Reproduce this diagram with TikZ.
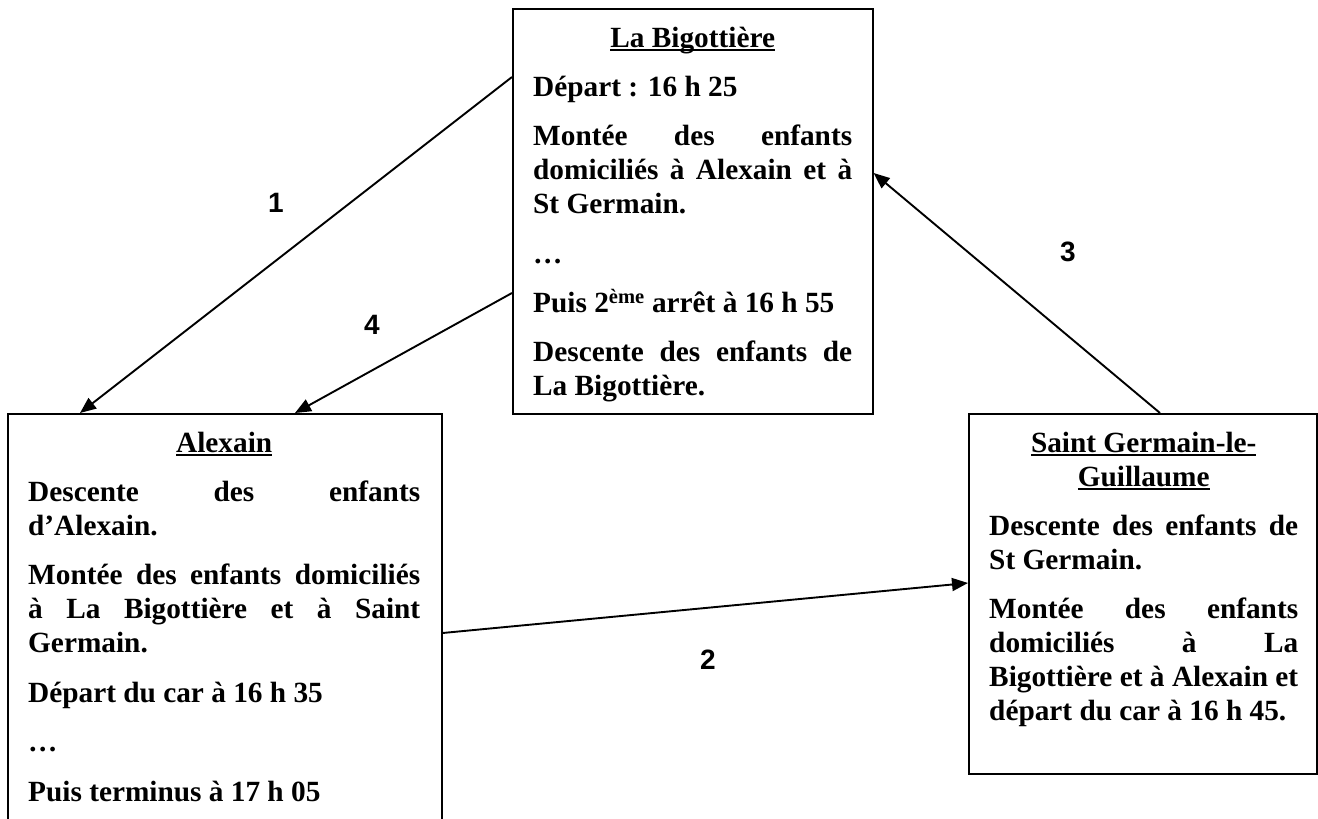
\documentclass[tikz,border=0pt]{standalone}
\usepackage{fontspec}
\setmainfont{Liberation Serif}
\newfontfamily\numfont{Liberation Sans}
\usetikzlibrary{arrows.meta}
\newcommand\myul[1]{\leavevmode\setbox0=\hbox{#1}\rlap{\rule[-4pt]{\wd0}{1.8pt}}\box0}
\newcommand\bodysetup{\fontsize{29.3}{34}\selectfont\bfseries
  \setlength\parskip{15.4pt}\setlength\parindent{0pt}%
  \hyphenpenalty=10000 \exhyphenpenalty=10000 \tolerance=10000 \hbadness=10000}
\tikzset{
  box/.style={draw, line width=1.6pt, inner sep=0pt, anchor=north west},
  txt/.style={anchor=base west, inner sep=0pt},
  arr/.style={line width=1.9pt, -{Triangle[length=16pt,width=13pt]}},
  num/.style={font=\numfont\bfseries\fontsize{28}{32}\selectfont, inner sep=0pt}
}
\begin{document}
\begin{tikzpicture}[x=1pt,y=-1pt]
\useasboundingbox (0,0) rectangle (1318,819);
\clip (0,0) rectangle (1318,819);
% boxes
\node[box, minimum width=360pt, minimum height=405pt] (big) at (512,8) {};
\node[box, minimum width=434pt, minimum height=430pt] (alex) at (7,413) {};
\node[box, minimum width=348pt, minimum height=360pt] (sg) at (968,413) {};
% texts
\node[txt] (tbig) at (533,47) {\parbox[t]{319pt}{\bodysetup
{\centering\myul{La Bigottière}\par}
Départ : 16 h 25\par
Montée des enfants \linebreak domiciliés à Alexain et à \linebreak St Germain.\par
…\par
Puis 2\textsuperscript{ème} arrêt à 16 h 55\par
Descente des enfants de \linebreak La Bigottière.\par}};
\node[txt] (talex) at (28,452) {\parbox[t]{392pt}{\bodysetup
{\centering\myul{Alexain}\par}
Descente des enfants \linebreak d’Alexain.\par
Montée des enfants domiciliés \linebreak à La Bigottière et à Saint \linebreak Germain.\par
Départ du car à 16 h 35\par
…\par
Puis terminus à 17 h 05\par}};
\node[txt] (tsg) at (989,452) {\parbox[t]{309pt}{\bodysetup
{\centering\myul{Saint Germain-le-}\\\myul{Guillaume}\par}
Descente des enfants de \linebreak St Germain.\par
Montée des enfants \linebreak domiciliés à La \linebreak Bigottière et à Alexain et \linebreak départ du car à 16 h 45.\par}};
% connectors
\draw[arr] ([yshift=-69pt]big.north west) -- ([xshift=73pt]alex.north west);
\draw[arr] ([xshift=192pt]sg.north west) -- ([yshift=-165pt]big.north east);
\draw[arr] ([yshift=-285pt]big.north west) -- ([xshift=288pt]alex.north west);
\draw[arr] ([yshift=-220pt]alex.north east) -- ([yshift=-170pt]sg.north west);
% labels
\node[num] (l1) at (276,203) {1};
\node[num] (l2) at (708,660) {2};
\node[num] (l3) at (1068,252) {3};
\node[num] (l4) at (372,325) {4};
\end{tikzpicture}
\end{document}
